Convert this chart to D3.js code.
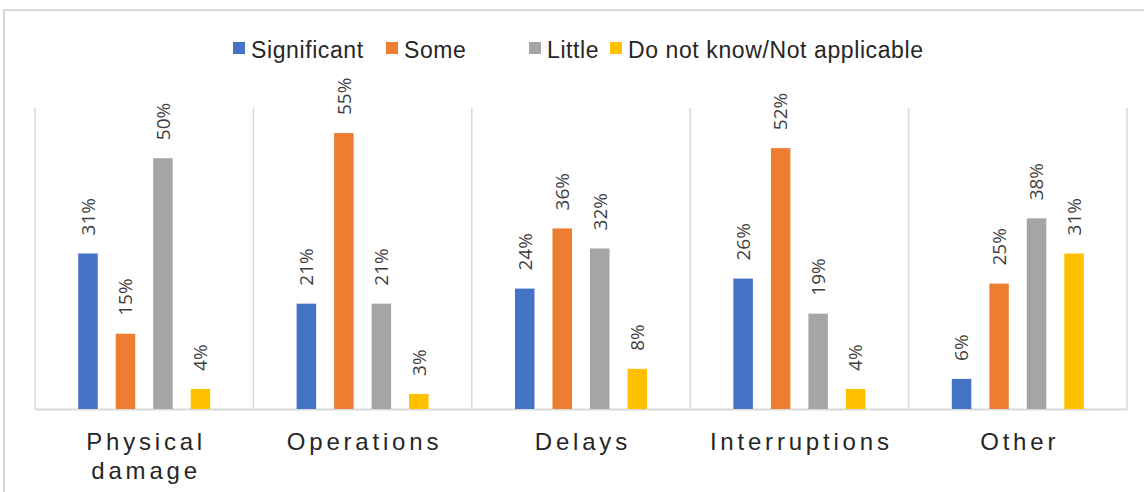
<!DOCTYPE html>
<html>
<head>
<meta charset="utf-8">
<script src="https://cdn.jsdelivr.net/npm/d3@7"></script>
<style>
  html, body { margin: 0; padding: 0; background: #fff; }
  svg { display: block; }
</style>
</head>
<body>
<svg id="chart" width="1144" height="492"></svg>
<script>
const categories = [["Physical", "damage"], ["Operations"], ["Delays"], ["Interruptions"], ["Other"]];
const seriesNames = ["Significant", "Some", "Little", "Do not know/Not applicable"];
const significant = [31, 21, 24, 26, 6];
const some = [15, 55, 36, 52, 25];
const little = [50, 21, 32, 19, 38];
const doNotKnow = [4, 3, 8, 4, 31];
const colors = ["#4472C4", "#ED7D31", "#A5A5A5", "#FFC000"];

(function () {
const series = [significant, some, little, doNotKnow];
const catKeys = categories.map(c => c.join(" "));

const svg = d3.select("#chart");
const W = 1144, H = 492;
const pLeft = 35, pRight = 1127, pBottom = 409, pTop = 108;

// outer frame (cropped chart border)
svg.append("rect").attr("x", 4).attr("y", 10).attr("width", W + 20).attr("height", H + 20)
  .attr("fill", "none").attr("stroke", "#d9d9d9").attr("stroke-width", 2);

const x0 = d3.scaleBand().domain(catKeys).range([pLeft, pRight]).padding(0);
const inner = 150;
const x1 = d3.scaleBand().domain(seriesNames)
  .range([(x0.bandwidth() - inner) / 2, (x0.bandwidth() + inner) / 2])
  .paddingInner(0.48).paddingOuter(0.24);
const y = d3.scaleLinear().domain([0, 60]).range([pBottom, pTop]);

// separators
const bounds = catKeys.map(k => x0(k)).concat([pRight]);
svg.append("g").selectAll("line").data(bounds).join("line")
  .attr("x1", d => d).attr("x2", d => d)
  .attr("y1", y(60)).attr("y2", pBottom)
  .attr("stroke", "#d9d9d9").attr("stroke-width", 1.5);

// baseline axis
const xAxis = d3.axisBottom(x0).tickSize(0).tickFormat("");
const axG = svg.append("g").attr("transform", `translate(0,${pBottom})`).call(xAxis);
axG.select(".domain").attr("stroke", "#d9d9d9").attr("stroke-width", 2);

// bars
const groups = svg.append("g").selectAll("g").data(catKeys).join("g")
  .attr("transform", d => `translate(${x0(d)},0)`);

groups.each(function(k, i) {
  const g = d3.select(this);
  seriesNames.forEach((s, j) => {
    const v = series[j][i];
    const bx = x1(s);
    g.append("rect")
      .attr("x", bx).attr("width", x1.bandwidth())
      .attr("y", y(v)).attr("height", pBottom - y(v))
      .attr("fill", colors[j]);
    const cx = bx + x1.bandwidth() / 2;
    g.append("text")
      .attr("transform", `translate(${cx},${y(v) - 18}) rotate(-90)`)
      .attr("dy", "0.36em")
      .attr("text-anchor", "start")
      .attr("font-family", "'Open Sans', sans-serif")
      .attr("font-size", 19)
      .attr("fill", "#404040")
      .text(v + "%");
  });
});

// category labels
const catG = svg.append("g");
categories.forEach((lines, i) => {
  const cx = x0(catKeys[i]) + x0.bandwidth() / 2;
  lines.forEach((ln, li) => {
    catG.append("text")
      .attr("x", cx + 1.9).attr("y", 450 + li * 29)
      .attr("text-anchor", "middle")
      .attr("font-family", "'Liberation Sans', Arial, sans-serif")
      .attr("font-size", 24)
      .attr("letter-spacing", 3.8)
      .attr("fill", "#262626")
      .text(ln);
  });
});

// legend
const legendX = [233, 386, 529, 610];
const lg = svg.append("g");
seriesNames.forEach((s, j) => {
  lg.append("rect").attr("x", legendX[j]).attr("y", 42).attr("width", 12).attr("height", 12)
    .attr("fill", colors[j]);
  lg.append("text").attr("x", legendX[j] + 18).attr("y", 58)
    .attr("font-family", "'Liberation Sans', Arial, sans-serif")
    .attr("font-size", 23)
    .attr("letter-spacing", 0.6)
    .attr("fill", "#262626")
    .text(s);
});
})();
</script>
</body>
</html>
